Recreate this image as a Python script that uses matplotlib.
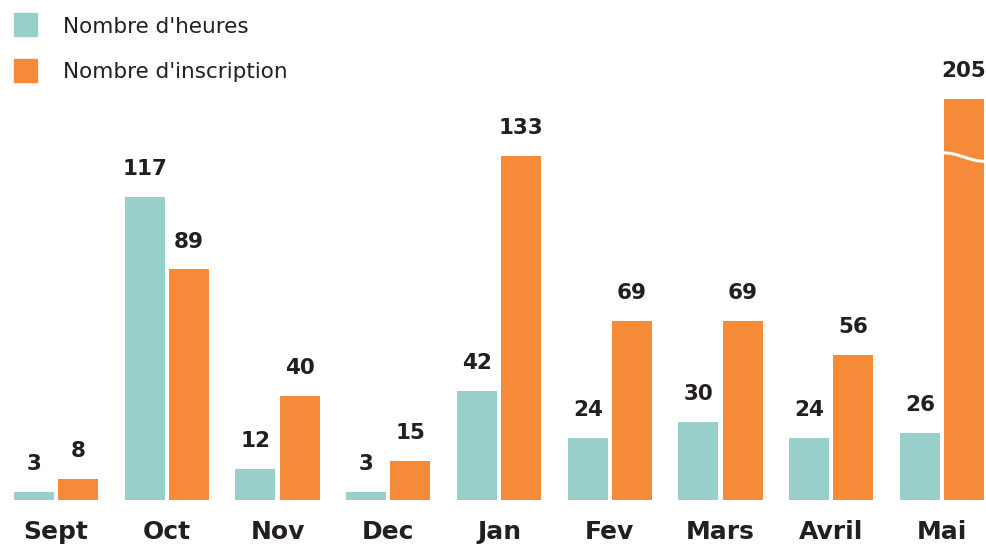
import numpy as np
import matplotlib
matplotlib.use("Agg")
import matplotlib.pyplot as plt

months = ["Sept", "Oct", "Nov", "Dec", "Jan", "Fev", "Mars", "Avril", "Mai"]
heures = [3, 117, 12, 3, 42, 24, 30, 24, 26]
inscriptions = [8, 89, 40, 15, 133, 69, 69, 56, 205]

# bars above this value are drawn shortened with a break mark
break_at = 155
break_pos = 133

teal = "#98CFCA"
orange = "#F58B38"
dark = "#231F20"

fig = plt.figure(figsize=(9.87, 5.44), dpi=100)
ax = fig.add_axes([0, 0, 1, 1])
ax.set_xlim(-0.5056, 8.406)
ax.set_ylim(-17.0, 193.05)
ax.axis("off")

x = np.arange(len(months))
w = 0.361
off = 0.199

h_shown = [min(v, break_at) for v in inscriptions]
ax.bar(x - off, heures, width=w, color=teal)
ax.bar(x + off, h_shown, width=w, color=orange)

lab_kw = dict(ha="center", va="center", fontsize=15.5, fontweight="bold",
              color=dark, family="DejaVu Sans")
for i in range(len(months)):
    ax.text(x[i] - off, heures[i] + 10.8, str(heures[i]), **lab_kw)
    ax.text(x[i] + off, h_shown[i] + 10.8, str(inscriptions[i]), **lab_kw)
    ax.text(x[i], -12.3, months[i], ha="center", va="center", fontsize=18,
            fontweight="bold", color=dark, family="DejaVu Sans")

# wavy break on shortened bars
for i, v in enumerate(inscriptions):
    if v > break_at:
        t = np.linspace(0, 1, 50)
        xs = x[i] + off - w / 2 + t * w
        ys = break_pos + 1.0 - 3.2 * (0.5 - 0.5 * np.cos(np.pi * t))
        ax.plot(xs, ys, color="white", lw=2.2, solid_capstyle="butt")

# legend
legend_items = [("Nombre d'heures", teal), ("Nombre d'inscription", orange)]
for k, (name, col) in enumerate(legend_items):
    yc = 1 - (25 + 45 * k) / 544
    fig.patches.append(plt.Rectangle((14 / 987, yc - 11.5 / 544), 23 / 987, 23 / 544,
                                     transform=fig.transFigure, color=col))
    fig.text(63 / 987, yc - 2 / 544, name, ha="left", va="center", fontsize=15.5,
             color=dark, family="DejaVu Sans")

fig.savefig("out.png", dpi=100)
